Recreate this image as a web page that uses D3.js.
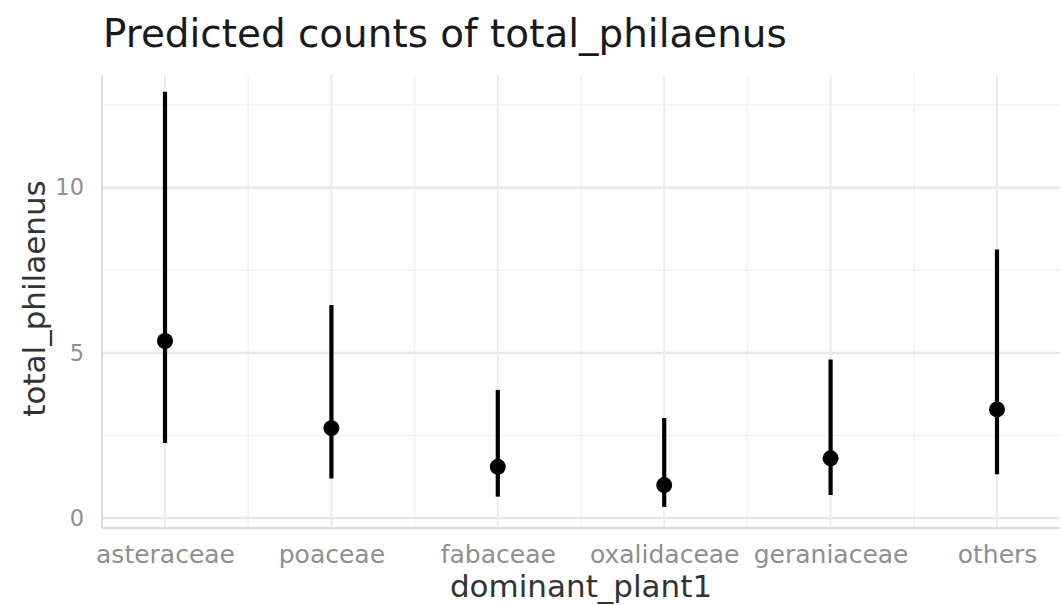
<!DOCTYPE html>
<html>
<head>
<meta charset="utf-8">
<script src="https://cdn.jsdelivr.net/npm/d3@7/dist/d3.min.js"></script>
<style>
  html, body { margin: 0; padding: 0; background: #fff; }
  svg { display: block; font-family: "DejaVu Sans", sans-serif; }
</style>
</head>
<body>
<svg id="chart" width="1061" height="605"></svg>
<script>
// Predicted counts with confidence intervals per dominant plant family
const categories = ["asteraceae", "poaceae", "fabaceae", "oxalidaceae", "geraniaceae", "others"];
const predicted  = [5.36, 2.72, 1.55, 1.00, 1.81, 3.29];
const lower      = [2.27, 1.20, 0.65, 0.34, 0.70, 1.33];
const upper      = [12.90, 6.45, 3.88, 3.03, 4.80, 8.13];
const yTicks     = [0, 5, 10];
const yMinor     = [2.5, 7.5, 12.5];

const svg = d3.select("#chart");
const panel = { left: 102, right: 1060, top: 75, bottom: 528 };

const x = d3.scalePoint()
  .domain(categories)
  .range([165, 997]);

const y = d3.scaleLinear()
  .domain([-0.3, 13.41])
  .range([panel.bottom, panel.top]);

const step = x.step();

// minor grid
const g = svg.append("g");
g.selectAll("line.ymin").data(yMinor).join("line")
  .attr("x1", panel.left).attr("x2", panel.right)
  .attr("y1", d => y(d)).attr("y2", d => y(d))
  .attr("stroke", "#f2f2f2").attr("stroke-width", 1.5);
g.selectAll("line.xmin").data(categories.slice(0, -1)).join("line")
  .attr("x1", d => x(d) + step / 2).attr("x2", d => x(d) + step / 2)
  .attr("y1", panel.top).attr("y2", panel.bottom)
  .attr("stroke", "#f2f2f2").attr("stroke-width", 1.5);

// major grid
g.selectAll("line.ymaj").data(yTicks).join("line")
  .attr("x1", panel.left).attr("x2", panel.right)
  .attr("y1", d => y(d)).attr("y2", d => y(d))
  .attr("stroke", "#e8e8e8").attr("stroke-width", 2.5);
g.selectAll("line.xmaj").data(categories).join("line")
  .attr("x1", d => x(d)).attr("x2", d => x(d))
  .attr("y1", panel.top).attr("y2", panel.bottom)
  .attr("stroke", "#ececec").attr("stroke-width", 2);

// axis lines
svg.append("line")
  .attr("x1", panel.left).attr("x2", panel.left)
  .attr("y1", panel.top).attr("y2", panel.bottom)
  .attr("stroke", "#dcdcdc").attr("stroke-width", 2);
svg.append("line")
  .attr("x1", panel.left).attr("x2", panel.right)
  .attr("y1", panel.bottom).attr("y2", panel.bottom)
  .attr("stroke", "#dcdcdc").attr("stroke-width", 2);

// y axis tick labels
const yAxis = d3.axisLeft(y).tickValues(yTicks).tickSize(0).tickPadding(0);
svg.append("g")
  .attr("transform", `translate(${panel.left - 18},0)`)
  .call(yAxis)
  .call(s => s.select(".domain").remove())
  .selectAll("text")
  .attr("font-family", "DejaVu Sans, sans-serif")
  .attr("font-size", 22.5)
  .attr("fill", "#8f8f8f");

// x axis tick labels
const xAxis = d3.axisBottom(x).tickSize(0).tickPadding(0);
svg.append("g")
  .attr("transform", `translate(0,${panel.bottom + 17})`)
  .call(xAxis)
  .call(s => s.select(".domain").remove())
  .selectAll("text")
  .attr("font-family", "DejaVu Sans, sans-serif")
  .attr("font-size", 25)
  .attr("fill", "#8f8f8f");

// intervals
const data = categories.map((c, i) => ({ c, p: predicted[i], lo: lower[i], hi: upper[i] }));
svg.append("g").selectAll("line").data(data).join("line")
  .attr("x1", d => x(d.c)).attr("x2", d => x(d.c))
  .attr("y1", d => y(d.lo)).attr("y2", d => y(d.hi))
  .attr("stroke", "#000").attr("stroke-width", 4.2);

svg.append("g").selectAll("circle").data(data).join("circle")
  .attr("cx", d => x(d.c)).attr("cy", d => y(d.p))
  .attr("r", 8).attr("fill", "#000");

// titles
svg.append("text")
  .attr("x", 103).attr("y", 47)
  .attr("font-size", 38.9).attr("fill", "#1a1a1a")
  .text("Predicted counts of total_philaenus");

svg.append("text")
  .attr("x", (panel.left + panel.right) / 2).attr("y", 597)
  .attr("text-anchor", "middle")
  .attr("font-size", 31).attr("fill", "#333")
  .text("dominant_plant1");

svg.append("text")
  .attr("transform", `translate(45,${(panel.top + panel.bottom) / 2 - 3}) rotate(-90)`)
  .attr("text-anchor", "middle")
  .attr("font-size", 31).attr("fill", "#333")
  .text("total_philaenus");
</script>
</body>
</html>
